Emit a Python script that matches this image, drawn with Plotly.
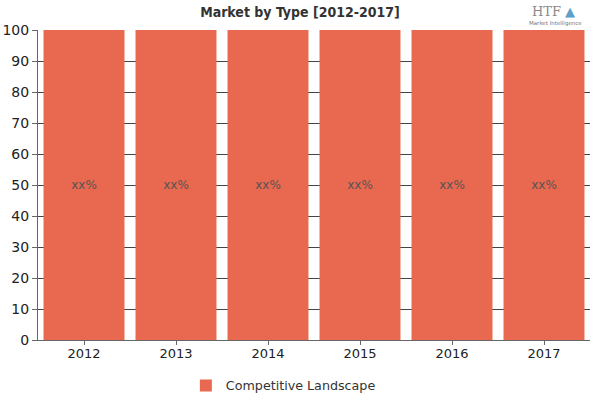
import plotly.graph_objects as go

years = ["2012", "2013", "2014", "2015", "2016", "2017"]
values = [100, 100, 100, 100, 100, 100]
labels = ["xx%"] * 6
series_name = "Competitive Landscape"

fig = go.Figure()
fig.add_trace(go.Bar(
    x=years, y=values, name=series_name,
    marker=dict(color="#E8694F", line=dict(width=0)),
    text=labels, textposition="inside", insidetextanchor="middle",
    textfont=dict(family="DejaVu Sans", size=12, color="#555555"),
    hoverinfo="skip",
))

fig.update_layout(
    width=600, height=400,
    margin=dict(l=38, r=10, t=30, b=60, autoexpand=False),
    paper_bgcolor="white", plot_bgcolor="white",
    bargap=0.12,
    showlegend=True,
    legend=dict(orientation="h", x=0.4445, xanchor="center", y=-0.099, yanchor="top",
                itemwidth=30,
                font=dict(family="DejaVu Sans", size=12.7, color="#333333")),
    title=dict(text="<b>Market by Type [2012-2017]</b>", x=0.5, xanchor="center",
               y=0.97, yanchor="middle",
               font=dict(family="DejaVu Sans Condensed, DejaVu Sans", size=14, color="#333333")),
    xaxis=dict(showline=True, linecolor="#666666", ticks="outside", ticklen=4,
               tickcolor="#666666", showgrid=False, automargin=False,
               ticklabelstandoff=-3,
               tickfont=dict(family="DejaVu Sans", size=13, color="#222222")),
    yaxis=dict(range=[0, 100], dtick=10, showline=True, linecolor="#666666",
               ticks="outside", ticklen=5, tickcolor="#666666", automargin=False,
               showgrid=True, gridcolor="#444444", gridwidth=1, zeroline=False,
               tickfont=dict(family="DejaVu Sans", size=14, color="#222222")),
)

fig.add_annotation(text="HTF", x=546, y=12, xref="paper", yref="paper",
                   showarrow=False, xanchor="center", yanchor="middle",
                   font=dict(family="DejaVu Serif", size=13, color="#8a8a8a"))
fig.add_annotation(text="Market Intelligence", x=555, y=23, xref="paper", yref="paper",
                   showarrow=False, xanchor="center", yanchor="middle",
                   font=dict(family="DejaVu Sans", size=5.5, color="#777777"))
fig.add_annotation(text="▲", x=570, y=11, xref="paper", yref="paper",
                   showarrow=False, xanchor="center", yanchor="middle",
                   font=dict(family="DejaVu Sans", size=13, color="#5aa0c8"))

# convert pixel coordinates of the logo annotations into paper fractions
pw, ph = 600 - 38 - 10, 400 - 30 - 60
for a in fig.layout.annotations:
    a.x = (a.x - 38) / pw
    a.y = (400 - 60 - a.y) / ph

fig.write_html("out.html", config={"displayModeBar": False},
               post_script="document.body.style.margin='0';")
